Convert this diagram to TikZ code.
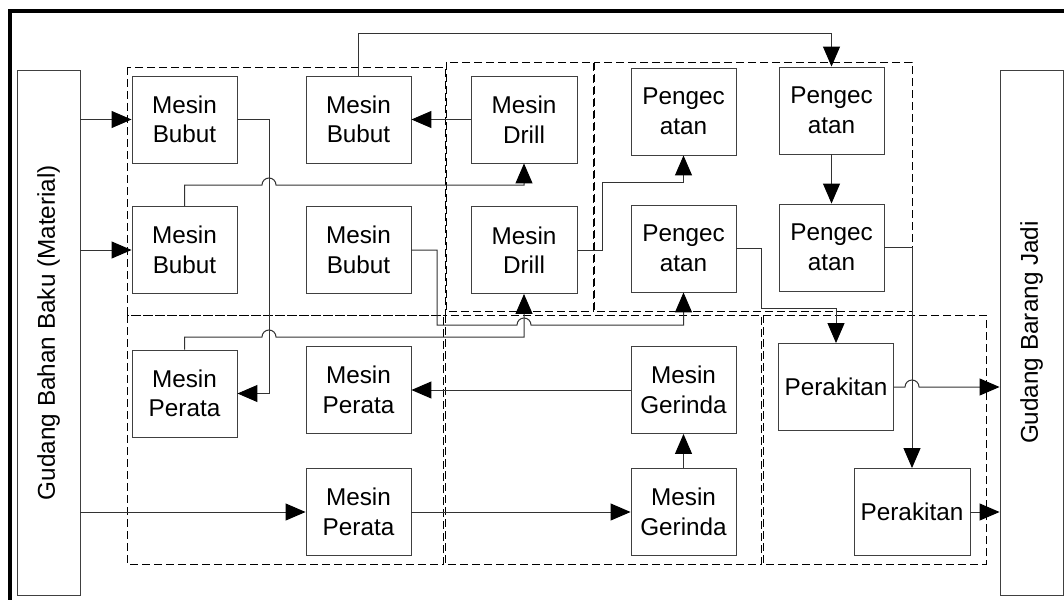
\documentclass[tikz,border=0pt]{standalone}
\usepackage{fontspec}
\setmainfont{Liberation Sans}
\usetikzlibrary{arrows.meta}
\begin{document}
\begin{tikzpicture}[x=1pt,y=-1pt,
  machine/.style={draw=black!75, line width=0.9pt, align=center, inner sep=0pt,
    minimum width=105pt, minimum height=87pt,
    font=\fontsize{24.3}{29.5}\selectfont},
  store/.style={draw=black!75, line width=0.9pt, rotate=90, inner sep=0pt,
    minimum width=525pt, minimum height=63pt,
    font=\fontsize{24.3}{29.5}\selectfont},
  area/.style={draw=black, line width=0.8pt, dash pattern=on 8pt off 4pt},
  conn/.style={draw=black!80, line width=1pt,
    -{Triangle[length=20pt,width=17pt,color=black]}},
]
\useasboundingbox (0,0) rectangle (1064,599);

% outer frame
\begin{scope}
  \clip (0,0) rectangle (1064,599);
  \draw[line width=4pt] (10,11) rectangle (1090,630);
\end{scope}

% storage blocks
\node[store] (gb) at (48.5,332.5) {Gudang Bahan Baku (Material)};
\node[store] (gj) at (1031.5,332.5) {Gudang Barang Jadi};

% work areas
\draw[area] (127,67) rectangle (445,315);
\draw[area] (446,62) rectangle (593,311);
\draw[area] (594,62) rectangle (912,311);
\draw[area] (127,315) rectangle (443,564);
\draw[area] (445,315) rectangle (761,564);
\draw[area] (763,315) rectangle (986,564);

% machines
\node[machine] (b1) at (184.5,119.5) {Mesin\\Bubut};
\node[machine] (b2) at (358.5,119.5) {Mesin\\Bubut};
\node[machine] (b3) at (184.5,250) {Mesin\\Bubut};
\node[machine] (b4) at (358.5,250) {Mesin\\Bubut};
\node[machine, minimum width=106pt] (d1) at (524,119.5) {Mesin\\Drill};
\node[machine, minimum width=106pt] (d2) at (524,250) {Mesin\\Drill};
\node[machine] (p1) at (683.5,111.5) {Pengec\\atan};
\node[machine] (p2) at (683.5,248.5) {Pengec\\atan};
\node[machine] (p3) at (831.5,110.5) {Pengec\\atan};
\node[machine] (p4) at (831.5,247.5) {Pengec\\atan};
\node[machine] (r1) at (184.5,393.5) {Mesin\\Perata};
\node[machine] (r2) at (358.5,390) {Mesin\\Perata};
\node[machine] (r3) at (358.5,512) {Mesin\\Perata};
\node[machine] (g1) at (683.5,390) {Mesin\\Gerinda};
\node[machine] (g2) at (683.5,512) {Mesin\\Gerinda};
\node[machine, minimum width=115pt] (k1) at (836,387) {Perakitan};
\node[machine, minimum width=116pt] (k2) at (912,512) {Perakitan};

% material flow
\draw[conn] (b1.west -| gb.south) -- (b1.west);
\draw[conn] (b3.west -| gb.south) -- (b3.west);
\draw[conn] (r3.west -| gb.south) -- (r3.west);

\draw[conn] (b1.east) -- (269,119.5) |- (r1.east);
\draw[conn] (b3.north) -- (184.5,185) -- (262,185)
  arc[start angle=180, end angle=0, radius=7pt] -- (524,185) -- (d1.south);
\draw[conn] (d1.west) -- (b2.east);
\draw[conn] (b2.north) -- (358.5,34) -| (p3.north);
\draw[conn] (b4.east) -- (437,250) -- (437,325) -- (517,325)
  arc[start angle=180, end angle=0, radius=7pt] -- (683.5,325) -- (p2.south);
\draw[conn] (r1.north) -- (184.5,337) -- (262,337)
  arc[start angle=180, end angle=0, radius=7pt] -- (524,337) -- (d2.south);
\draw[conn] (d2.east) -- (602,250) -- (602,182) -| (p1.south);
\draw[conn] (p3.south) -- (p4.north);
\draw[conn] (p2.east) -- (761.5,248.5) -- (761.5,308) -| (k1.north);
\draw[conn] (p4.east) -| (k2.north);
\draw[conn] (k1.east) -- (905,387)
  arc[start angle=180, end angle=0, radius=7pt] -- (k1.east -| gj.north);
\draw[conn] (k2.east) -- (k2.east -| gj.north);
\draw[conn] (g1.west) -- (r2.east);
\draw[conn] (g2.north) -- (g1.south);
\draw[conn] (r3.east) -- (g2.west);
\end{tikzpicture}
\end{document}
